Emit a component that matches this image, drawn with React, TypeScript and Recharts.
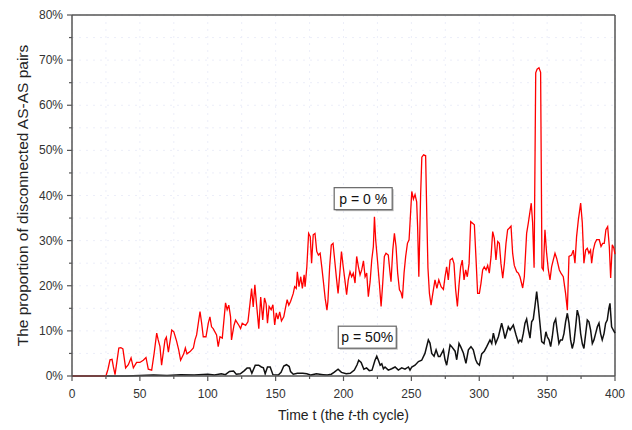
import React from 'react';
import { LineChart, Line, XAxis, YAxis, CartesianGrid, ReferenceLine, ReferenceDot, Label } from 'recharts';

// p = 0 % (red) : [time t, proportion %]
const redPoints: [number, number][] = [
  [0,0],[25,0],[26.5,1.5],[28,3.6],[29.5,3.7],[30.5,2],[31.7,0.3],[33,3],[34.5,6.2],[36,6.3],[37.5,6],[39.5,1.8],[41.5,2.5],[43.5,4],[45.2,1.8],[47.6,3],[50,3],[52.5,3.5],[54.5,4.1],[56.2,1.5],[58.7,1.3],[60.5,5],[62.4,9.5],[63.5,8],[64.8,6.5],[66,2.4],[68.5,8],[69.5,8.6],[71,5.3],[73.5,10.2],[75,9.8],[77,7.8],[78.6,5.8],[80,3.5],[82.3,4.9],[83.5,6.2],[84.7,4.9],[87,5.4],[89.4,6.2],[90.6,8],[91.8,9.1],[94.3,14.3],[95.5,11.7],[96.7,8.7],[98.7,8.7],[100.4,11.7],[101.6,13.1],[102.8,10.9],[104,10.5],[106.5,9.1],[107.7,6.5],[109,8.7],[110.7,8.4],[113.1,16.2],[114.3,14.7],[115.5,15.7],[116.8,13.1],[117.5,8],[119.3,11.2],[120.5,12.4],[123,11.2],[124.2,10.5],[125.4,11.7],[127.9,11.2],[129.6,12],[131,15.7],[132.3,19.4],[133.5,15.3],[134.7,20.2],[136,15.7],[137.6,10.5],[139,17.5],[140.5,12.4],[141.8,17.3],[143,16],[144,11.7],[145.2,15.4],[146.7,14.7],[148,15.8],[149.3,11.3],[150.5,14],[151.7,12.6],[153,14.2],[154.3,12.2],[156,13.1],[157.2,15],[158.5,16.9],[159.7,15.7],[161,16.5],[163,18.3],[164,19.8],[165.2,19.4],[166,23.1],[167.2,19.8],[168.5,22],[169.7,19.4],[171,22.4],[171.7,19.8],[173,24.2],[174.3,31.6],[175.5,30.9],[176.5,25],[177.7,31.3],[179,31.6],[180.3,27.6],[181.5,26.8],[182.8,27.2],[184,24.2],[185.3,20.6],[186.5,17.2],[187.8,14.6],[188.5,16.5],[189.8,24.2],[191,29],[192.3,29.4],[193.5,25.7],[194.8,21.7],[196,18.3],[197.3,22.8],[198.5,27.6],[199.8,24.2],[201,21.3],[202.3,18],[203.5,21.3],[204.8,23.1],[206,22],[207.2,22.8],[208.5,20.6],[209.7,26.5],[211,24.2],[212.2,22.4],[213.4,23.5],[214.7,25.5],[215.9,22],[217.1,22.8],[218.3,17.6],[219.6,20.9],[220.8,25.7],[222,28.7],[222.8,35.3],[223.7,30.2],[225,25.7],[226.4,20.6],[227.7,15.4],[228.9,20.6],[230.1,26.5],[231.3,27.2],[233,26.8],[234.3,22.8],[235,20.9],[236.3,27.9],[237.5,31.6],[238.7,28.7],[239.9,22.8],[241.2,19.1],[242.4,18.5],[243.4,17.2],[244.6,22.8],[245.8,26.5],[247.1,29.4],[248.3,30.2],[249,33.9],[250.3,40.9],[251.5,39.2],[252.7,40.2],[253.9,38.6],[254.6,33],[255.5,22],[256.8,40],[257.7,48.5],[259,49],[260.5,48.8],[261.4,35],[262.2,24],[263.3,18.3],[264.5,15.7],[265.8,18.3],[267.4,21.3],[268.8,19.4],[270.2,21.3],[271.9,19.8],[273.6,19.2],[274.8,22],[276,24.2],[277.2,21.3],[278.5,25.7],[280.2,26.1],[281.4,24.9],[282.6,19.2],[283.9,15.4],[285.1,20.2],[286.3,24.2],[287.5,25.7],[288.8,21.3],[290,23.5],[291.2,22],[292.5,24.9],[293.7,34.2],[294.9,33.9],[296.4,33.5],[297.6,26.1],[298.8,18.3],[300.1,18.3],[301.3,20.6],[302.5,23.5],[303.7,24.2],[305,23.5],[306.2,24.5],[307.4,22.8],[308.7,26.5],[309.9,32],[311.1,30.5],[312.3,25.7],[313.6,29.8],[314.8,29.4],[316,24.9],[317.3,21.7],[318.5,24.9],[319.7,29.4],[320.9,32.4],[322.2,32.8],[323.4,33.2],[324.6,27.2],[325.8,24.5],[327.6,23.1],[328.8,22.8],[330,22],[332,19.5],[333.2,22],[334.9,31.6],[336.1,33.8],[338.3,38.3],[339.3,34],[340.4,24],[341.6,67.2],[342.6,68],[344,68.3],[345.2,67.3],[346.2,24],[347.2,23.5],[348.4,32.4],[349.6,27.3],[350.9,23.5],[352.1,21.3],[353.3,24.2],[354.5,25.7],[355.8,27.2],[357,26.1],[359,23.5],[360.2,22.8],[361.9,22],[363.6,18.3],[364.9,14.6],[366.1,26.5],[368,26.8],[369.3,27.9],[370.5,25],[371.7,30.9],[373,34.6],[374.7,38.3],[375.9,34],[377.1,25],[378.4,27.9],[379.6,28.3],[380.8,27.2],[382,27.9],[382.8,25],[384,27.9],[385.2,29.4],[386.5,30.2],[388.4,30.2],[389.7,28.7],[390.9,29.4],[392.1,29.4],[393.3,32.4],[394.6,33.1],[395.8,28.7],[396.8,21.7],[398,29.1],[399.2,28.3],[400,27]
];

// p = 50% (black) : [time t, proportion %]
const blackPoints: [number, number][] = [
  [0,0],[40,0],[50,0.1],[60,0.2],[70,0.1],[80,0.3],[90,0.2],[100,0.4],[105,0.2],[110,0.5],[113,0.3],[116,1],[119,1.1],[121,0.4],[124,0.5],[127,1.2],[129,1.8],[131,1.8],[132.5,0.6],[135,2.4],[137.5,2.4],[139.5,2],[141,1.8],[142.3,0.5],[144,2],[146,2],[148,0.3],[152,0.2],[154,0.8],[156,2.2],[158,2.5],[160,2.1],[161,1],[163,0.4],[166,0.6],[170,0.6],[173,0.5],[176,0.2],[180,0.5],[185,0.3],[188,0.2],[191,0.4],[193,0.8],[196,1.5],[198.5,0.8],[202,0.5],[205,0.6],[208,1.3],[210,2.5],[211.2,3.5],[213,3],[215,1.5],[217,1.8],[219,1.2],[221,1.3],[223.2,3.5],[224.5,4.4],[225.7,3.5],[227,2.4],[228.2,2.7],[229.4,1.6],[230.6,2],[233,1.3],[235.5,1.6],[238,2],[240.4,1.3],[242.9,1.8],[245.3,1.5],[247.8,2],[249,1.3],[250.3,2],[252.7,2.4],[255.2,3.2],[257.6,3.5],[260,5],[262.5,8],[263.7,7.3],[265,5],[266.7,4.4],[268.2,5.8],[269.9,4.3],[271.1,4.3],[273.6,5.8],[274.8,3.6],[276,2.4],[278.5,6.9],[279.7,6.5],[282.2,5.5],[283.4,3.6],[285.1,7.2],[286.3,6.5],[288.3,5.1],[290.2,2.8],[292,5.8],[293.9,6.5],[295.6,5.8],[297.4,3.6],[298.6,2.8],[300.1,2.4],[301.8,4.9],[303.7,5.5],[305.5,6.5],[307.9,8],[309.2,7.2],[310.4,9.5],[312.1,7.2],[314.1,8.7],[316.5,11.7],[317.7,10.2],[319,8.3],[321.4,10.9],[322.7,10.2],[325.1,11.3],[327.1,9.1],[328.8,7.4],[330,8],[331.2,7.6],[332.5,9.5],[333.7,11.7],[334.9,12.6],[336.1,10.4],[337.4,8.4],[338.6,12],[339.8,12.6],[341,15.4],[342.3,18.7],[343.5,15.4],[344.7,11.7],[346,7.6],[347.7,7.2],[349.1,9.8],[350.1,8.7],[351.4,8],[352.6,6.5],[353.8,8.7],[355,11.7],[356.3,12.6],[357.5,9.8],[358.7,7.2],[359.9,8],[361.2,8],[362.4,9.4],[363.6,12],[364.9,13.9],[366.1,11.7],[367.3,8],[368.5,6.1],[369.8,7.6],[371,10.9],[372.2,14.6],[373.5,13.1],[374.7,9.4],[375.9,7.2],[377.1,6.1],[378.4,9.4],[379.6,12.4],[380.8,12],[382,10.2],[383.3,7.2],[384.5,8],[385.7,9.4],[387,10.9],[388.2,11.7],[389.4,9.4],[390.6,8],[391.9,9.4],[393.1,11.7],[394.3,12.4],[395.5,15],[396.3,16.1],[397.5,10.9],[398.7,10.2],[400,9.5]
];

const xTicks = [0,25,50,75,100,125,150,175,200,225,250,275,300,325,350,375,400];
const yTicks = [0,5,10,15,20,25,30,35,40,45,50,55,60,65,70,75,80];

const annotations = [
  { t: 214.5, v: 39.3, text: 'p = 0 %' },
  { t: 217.5, v: 8.6, text: 'p = 50%' },
];

const redData = redPoints.map(([t, v]) => ({ t, v }));
const blackData = blackPoints.map(([t, v]) => ({ t, v }));

const FONT = '"Liberation Sans", Arial, sans-serif';
const AXIS = '#555';

const XTick = (props: any) => {
  const { x, y, payload } = props;
  const major = payload.value % 50 === 0;
  return (
    <g>
      <line x1={x} y1={y} x2={x} y2={y + (major ? 5 : 3)} stroke={AXIS} strokeWidth={1.2} />
      {major && (
        <text x={x} y={y + 22} textAnchor="middle" fontSize={12} fontFamily={FONT} fill="#333">
          {payload.value}
        </text>
      )}
    </g>
  );
};

const YTick = (props: any) => {
  const { x, y, payload } = props;
  const major = payload.value % 10 === 0;
  return (
    <g>
      <line x1={x} y1={y} x2={x - (major ? 5 : 3)} y2={y} stroke={AXIS} strokeWidth={1.2} />
      {major && (
        <text x={x - 9} y={y + 4} textAnchor="end" fontSize={12} fontFamily={FONT} fill="#333">
          {payload.value}%
        </text>
      )}
    </g>
  );
};

const YTitle = (props: any) => {
  const vb = props.viewBox || { x: 0, y: 15, width: 72, height: 361 };
  const cx = vb.x + 22;
  const cy = vb.y + vb.height / 2;
  return (
    <text x={cx} y={cy} transform={`rotate(-90, ${cx}, ${cy})`} textAnchor="middle" dominantBaseline="central"
      fontSize={15.5} fontFamily={FONT} fill="#222">
      The proportion of disconnected AS-AS pairs
    </text>
  );
};

const XTitle = (props: any) => {
  const vb = props.viewBox || { x: 72, y: 376, width: 543, height: 54 };
  const cx = vb.x + vb.width / 2;
  const cy = vb.y + 44;
  return (
    <text x={cx} y={cy} textAnchor="middle" fontSize={14} fontFamily={FONT} fill="#222">
      <tspan>Time t (the </tspan>
      <tspan fontStyle="italic">t</tspan>
      <tspan>-th cycle)</tspan>
    </text>
  );
};

const makeBox = (text: string) => (p: any) => {
  const w = 58;
  const h = 22;
  return (
    <g>
      <rect x={p.cx - w / 2 + 1.5} y={p.cy - h / 2 + 1.5} width={w} height={h} fill="#bbb" />
      <rect x={p.cx - w / 2} y={p.cy - h / 2} width={w} height={h} fill="#fff" stroke="#666" strokeWidth={1.2} />
      <text x={p.cx} y={p.cy + 5} textAnchor="middle" fontSize={14} fontFamily={FONT} fill="#111">
        {text}
      </text>
    </g>
  );
};

export default function App() {
  return (
    <div style={{ position: 'absolute', left: 0, top: 0, width: 632, height: 430, background: '#fff' }}>
      <LineChart width={632} height={430} margin={{ top: 15, right: 17, bottom: 0, left: 0 }}>
        <CartesianGrid stroke="#eceef9" strokeDasharray="2 5" />
        <XAxis
          type="number"
          dataKey="t"
          domain={[0, 400]}
          ticks={xTicks}
          interval={0}
          height={54}
          tickLine={false}
          tickSize={0}
          tickMargin={0}
          tick={<XTick />}
          axisLine={{ stroke: AXIS, strokeWidth: 1.5 }}
          allowDuplicatedCategory={false}
        >
          <Label content={<XTitle />} />
        </XAxis>
        <YAxis
          type="number"
          domain={[0, 80]}
          ticks={yTicks}
          interval={0}
          width={72}
          tickLine={false}
          tickSize={0}
          tickMargin={0}
          tick={<YTick />}
          axisLine={{ stroke: AXIS, strokeWidth: 1.5 }}
        >
          <Label content={<YTitle />} />
        </YAxis>
        <ReferenceLine y={80} stroke={AXIS} strokeWidth={1.5} />
        <ReferenceLine x={400} stroke={AXIS} strokeWidth={1.5} />
        <Line data={blackData} dataKey="v" type="linear" stroke="#111" strokeWidth={1.5} dot={false} isAnimationActive={false} />
        <Line data={redData} dataKey="v" type="linear" stroke="#ff0000" strokeWidth={1.3} dot={false} isAnimationActive={false} />
        {annotations.map((a) => (
          <ReferenceDot key={a.text} x={a.t} y={a.v} r={0} ifOverflow="visible" shape={makeBox(a.text)} />
        ))}
      </LineChart>
    </div>
  );
}
